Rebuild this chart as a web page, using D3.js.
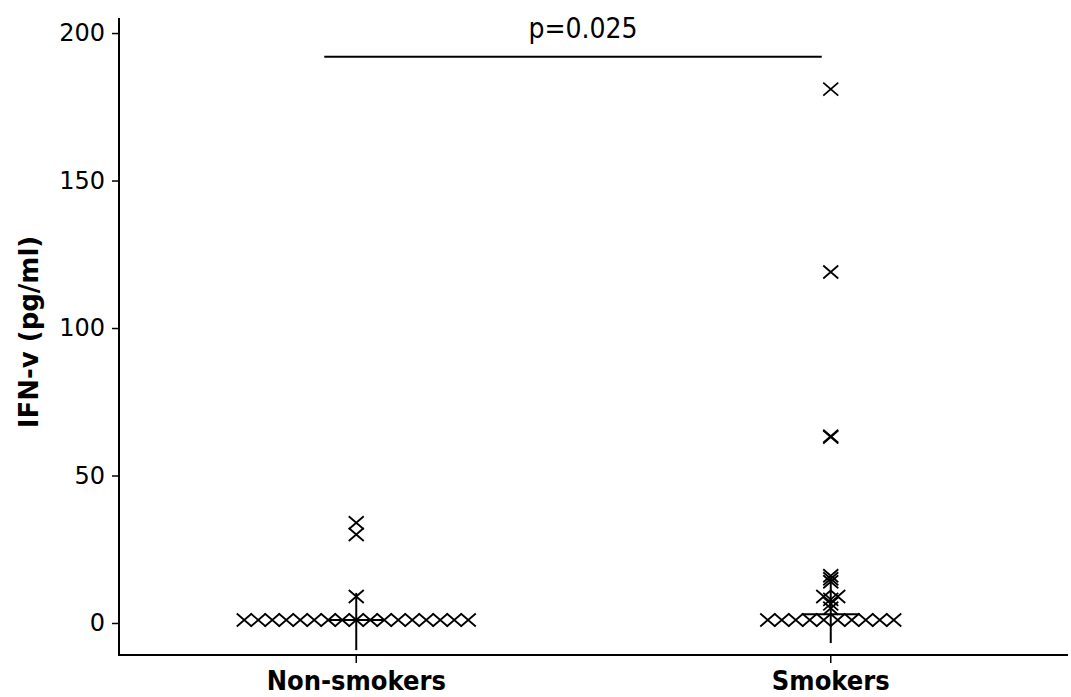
<!DOCTYPE html>
<html>
<head>
<meta charset="utf-8">
<script src="https://cdn.jsdelivr.net/npm/d3@7"></script>
<style>
  html, body { margin: 0; padding: 0; background: #fff; }
  svg { display: block; }
</style>
</head>
<body>
<svg id="chart" width="1071" height="697"></svg>
<script>
// ---- data ----
const categories = ["Non-smokers", "Smokers"];
const nonSmokers = [1,1,1,1,1,1,1,1,1,1,1,1,1,1,1,1,1, 9, 30, 34];
const smokers = [1,1,1,1,1,1,1,1,1,1, 5, 6.5, 8, 9, 9, 14, 15, 16, 63, 63.3, 119, 181];
const seriesValues = [nonSmokers, smokers];
const medians = [1, 3];
const whiskerLow = [-9.2, -6.8];
const whiskerHigh = [10.2, 15.6];
const yTicks = [0, 50, 100, 150, 200];
const pLabel = "p=0.025";
const pBarValue = 192;
const yLabel = "IFN-v (pg/ml)";

// ---- layout ----
const svg = d3.select("#chart");
const mLeft = 119, mRight = 1068, mTop = 18, mBottom = 655;

const x = d3.scaleBand().domain(categories).range([mLeft, mRight]).padding(0);
const y = d3.scaleLinear().domain([-10.85, 205.1]).range([mBottom, mTop]);

// y axis
const yAxis = svg.append("g")
  .attr("transform", `translate(${mLeft},0)`)
  .call(d3.axisLeft(y).tickValues(yTicks).tickSize(7).tickSizeOuter(0).tickPadding(7));
yAxis.select(".domain").attr("stroke", "#000").attr("stroke-width", 2)
  .attr("d", `M0,${mTop}V${mBottom}`);
yAxis.selectAll(".tick line").attr("stroke", "#000").attr("stroke-width", 1.5);
yAxis.selectAll(".tick text")
  .attr("font-family", "DejaVu Sans, Verdana, sans-serif")
  .attr("font-size", 24).attr("fill", "#000");

// x axis
const xAxis = svg.append("g")
  .attr("transform", `translate(0,${mBottom})`)
  .call(d3.axisBottom(x).tickSize(8).tickSizeOuter(0));
xAxis.select(".domain").attr("stroke", "#000").attr("stroke-width", 2)
  .attr("d", `M${mLeft - 1},0H${mRight}`);
xAxis.selectAll(".tick line").attr("stroke", "#000").attr("stroke-width", 1.5);
xAxis.selectAll(".tick text")
  .attr("font-family", "DejaVu Sans Condensed, DejaVu Sans, sans-serif")
  .attr("font-stretch", "condensed")
  .attr("font-weight", "bold")
  .attr("font-size", 27).attr("fill", "#000")
  .attr("y", 35).attr("dy", 0);

// y label
svg.append("text")
  .attr("transform", `translate(38,332) rotate(-90)`)
  .attr("text-anchor", "middle")
  .attr("font-family", "DejaVu Sans, Verdana, sans-serif")
  .attr("font-weight", "bold")
  .attr("font-size", 26)
  .text(yLabel);

// stats: whiskers and medians
const cx = c => x(c) + x.bandwidth() / 2;
const stats = svg.append("g").attr("stroke", "#000").attr("stroke-width", 2);
categories.forEach((c, i) => {
  stats.append("line")
    .attr("x1", cx(c)).attr("x2", cx(c))
    .attr("y1", y(whiskerLow[i])).attr("y2", y(whiskerHigh[i]));
  stats.append("line")
    .attr("x1", cx(c) - 29).attr("x2", cx(c) + 29)
    .attr("y1", y(medians[i])).attr("y2", y(medians[i]));
});

// points (X markers), equal values spread horizontally
const spacing = 14;
const hw = 7.5, hh = 6.5;
const marks = svg.append("g").attr("stroke", "#000").attr("stroke-width", 1.8).attr("fill", "none");
categories.forEach((c, i) => {
  const groups = d3.group(seriesValues[i], v => v);
  groups.forEach((vals, v) => {
    const n = vals.length;
    vals.forEach((_, k) => {
      const px = cx(c) + (k - (n - 1) / 2) * spacing;
      const py = y(v);
      marks.append("path")
        .attr("d", `M${px - hw},${py - hh}L${px + hw},${py + hh}M${px - hw},${py + hh}L${px + hw},${py - hh}`);
    });
  });
});

// significance bar
const barX1 = cx(categories[0]) - 32, barX2 = cx(categories[1]) - 9;
svg.append("line")
  .attr("x1", barX1).attr("x2", barX2)
  .attr("y1", y(pBarValue)).attr("y2", y(pBarValue))
  .attr("stroke", "#000").attr("stroke-width", 2);
svg.append("text")
  .attr("x", (barX1 + barX2) / 2 + 10)
  .attr("y", y(pBarValue) - 19)
  .attr("text-anchor", "middle")
  .attr("font-family", "DejaVu Sans Condensed, DejaVu Sans, sans-serif")
  .attr("font-stretch", "condensed")
  .attr("font-size", 28)
  .text(pLabel);
</script>
</body>
</html>
